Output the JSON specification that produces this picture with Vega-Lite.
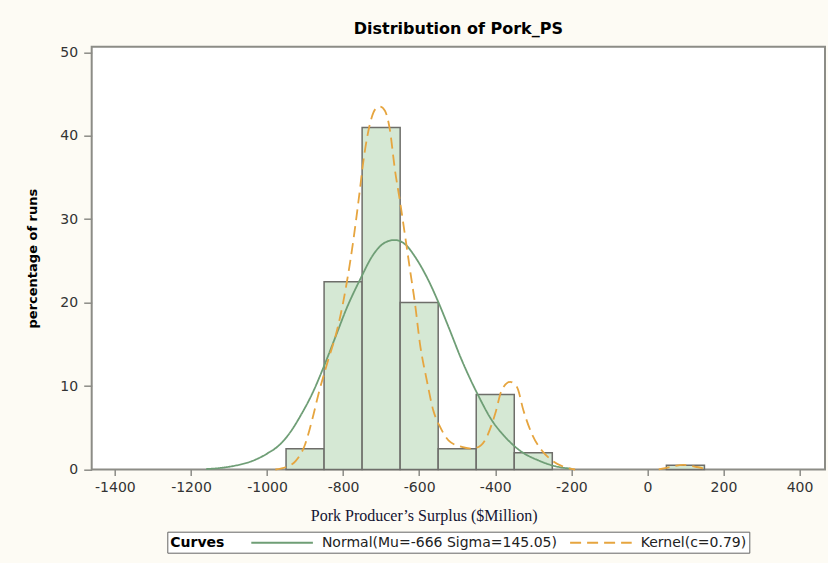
{
  "$schema": "https://vega.github.io/schema/vega-lite/v6.json",
  "autosize": {"type": "none"},
  "width": 733.3,
  "height": 422.8,
  "padding": {"left": 91.7, "top": 46.7, "right": 3, "bottom": 93.5},
  "background": "#fdfbf4",
  "title": {
    "text": "Distribution of Pork_PS",
    "font": "DejaVu Sans",
    "fontSize": 16,
    "fontWeight": "bold",
    "color": "#000000",
    "anchor": "middle",
    "offset": 8
  },
  "config": {
    "view": {"fill": "#ffffff", "stroke": "#8c8c86", "strokeWidth": 2},
    "axis": {
      "labelFont": "DejaVu Sans",
      "labelFontSize": 14,
      "labelColor": "#333333",
      "tickColor": "#8c8c86",
      "tickWidth": 1.5,
      "domain": false,
      "grid": false
    }
  },
  "datasets": {
    "bars": [
      {"lo": -950, "hi": -850, "pct": 2.5},
      {"lo": -850, "hi": -750, "pct": 22.5},
      {"lo": -750, "hi": -650, "pct": 41},
      {"lo": -650, "hi": -550, "pct": 20},
      {"lo": -550, "hi": -450, "pct": 2.5},
      {"lo": -450, "hi": -350, "pct": 9},
      {"lo": -350, "hi": -250, "pct": 2},
      {"lo": 50, "hi": 150, "pct": 0.5}
    ],
    "curves": [
      {"curve": "Normal(Mu=-666 Sigma=145.05)", "seg": "n", "x": -1160, "y": 0.05},
      {"curve": "Normal(Mu=-666 Sigma=145.05)", "seg": "n", "x": -1120, "y": 0.2},
      {"curve": "Normal(Mu=-666 Sigma=145.05)", "seg": "n", "x": -1080, "y": 0.5},
      {"curve": "Normal(Mu=-666 Sigma=145.05)", "seg": "n", "x": -1040, "y": 1.0},
      {"curve": "Normal(Mu=-666 Sigma=145.05)", "seg": "n", "x": -1000, "y": 1.9},
      {"curve": "Normal(Mu=-666 Sigma=145.05)", "seg": "n", "x": -966, "y": 3.0},
      {"curve": "Normal(Mu=-666 Sigma=145.05)", "seg": "n", "x": -940, "y": 4.4},
      {"curve": "Normal(Mu=-666 Sigma=145.05)", "seg": "n", "x": -910, "y": 6.6},
      {"curve": "Normal(Mu=-666 Sigma=145.05)", "seg": "n", "x": -880, "y": 9.2},
      {"curve": "Normal(Mu=-666 Sigma=145.05)", "seg": "n", "x": -851, "y": 12.3},
      {"curve": "Normal(Mu=-666 Sigma=145.05)", "seg": "n", "x": -820, "y": 15.9},
      {"curve": "Normal(Mu=-666 Sigma=145.05)", "seg": "n", "x": -790, "y": 19.4},
      {"curve": "Normal(Mu=-666 Sigma=145.05)", "seg": "n", "x": -755, "y": 22.8},
      {"curve": "Normal(Mu=-666 Sigma=145.05)", "seg": "n", "x": -720, "y": 25.8},
      {"curve": "Normal(Mu=-666 Sigma=145.05)", "seg": "n", "x": -690, "y": 27.2},
      {"curve": "Normal(Mu=-666 Sigma=145.05)", "seg": "n", "x": -665, "y": 27.5},
      {"curve": "Normal(Mu=-666 Sigma=145.05)", "seg": "n", "x": -637, "y": 27.0},
      {"curve": "Normal(Mu=-666 Sigma=145.05)", "seg": "n", "x": -611, "y": 25.5},
      {"curve": "Normal(Mu=-666 Sigma=145.05)", "seg": "n", "x": -576, "y": 22.7},
      {"curve": "Normal(Mu=-666 Sigma=145.05)", "seg": "n", "x": -550, "y": 20.1},
      {"curve": "Normal(Mu=-666 Sigma=145.05)", "seg": "n", "x": -523, "y": 17.1},
      {"curve": "Normal(Mu=-666 Sigma=145.05)", "seg": "n", "x": -488, "y": 13.1},
      {"curve": "Normal(Mu=-666 Sigma=145.05)", "seg": "n", "x": -445, "y": 8.9},
      {"curve": "Normal(Mu=-666 Sigma=145.05)", "seg": "n", "x": -409, "y": 5.9},
      {"curve": "Normal(Mu=-666 Sigma=145.05)", "seg": "n", "x": -374, "y": 3.9},
      {"curve": "Normal(Mu=-666 Sigma=145.05)", "seg": "n", "x": -330, "y": 2.1},
      {"curve": "Normal(Mu=-666 Sigma=145.05)", "seg": "n", "x": -287, "y": 1.1},
      {"curve": "Normal(Mu=-666 Sigma=145.05)", "seg": "n", "x": -243, "y": 0.4},
      {"curve": "Normal(Mu=-666 Sigma=145.05)", "seg": "n", "x": -200, "y": 0.1},
      {"curve": "Kernel(c=0.79)", "seg": "a", "x": -978, "y": 0},
      {"curve": "Kernel(c=0.79)", "seg": "a", "x": -950, "y": 0.3},
      {"curve": "Kernel(c=0.79)", "seg": "a", "x": -925, "y": 1.0},
      {"curve": "Kernel(c=0.79)", "seg": "a", "x": -900, "y": 3.0},
      {"curve": "Kernel(c=0.79)", "seg": "a", "x": -880, "y": 6.2},
      {"curve": "Kernel(c=0.79)", "seg": "a", "x": -865, "y": 9},
      {"curve": "Kernel(c=0.79)", "seg": "a", "x": -840, "y": 13},
      {"curve": "Kernel(c=0.79)", "seg": "a", "x": -817, "y": 16.5},
      {"curve": "Kernel(c=0.79)", "seg": "a", "x": -800, "y": 20},
      {"curve": "Kernel(c=0.79)", "seg": "a", "x": -790, "y": 22.5},
      {"curve": "Kernel(c=0.79)", "seg": "a", "x": -773, "y": 27.5},
      {"curve": "Kernel(c=0.79)", "seg": "a", "x": -760, "y": 32},
      {"curve": "Kernel(c=0.79)", "seg": "a", "x": -745, "y": 37.5},
      {"curve": "Kernel(c=0.79)", "seg": "a", "x": -729, "y": 41.5},
      {"curve": "Kernel(c=0.79)", "seg": "a", "x": -715, "y": 43.2},
      {"curve": "Kernel(c=0.79)", "seg": "a", "x": -703, "y": 43.5},
      {"curve": "Kernel(c=0.79)", "seg": "a", "x": -690, "y": 43},
      {"curve": "Kernel(c=0.79)", "seg": "a", "x": -677, "y": 40.7},
      {"curve": "Kernel(c=0.79)", "seg": "a", "x": -664, "y": 36},
      {"curve": "Kernel(c=0.79)", "seg": "a", "x": -650, "y": 32},
      {"curve": "Kernel(c=0.79)", "seg": "a", "x": -637, "y": 28},
      {"curve": "Kernel(c=0.79)", "seg": "a", "x": -624, "y": 23.9},
      {"curve": "Kernel(c=0.79)", "seg": "a", "x": -611, "y": 19.9},
      {"curve": "Kernel(c=0.79)", "seg": "a", "x": -598, "y": 15.1},
      {"curve": "Kernel(c=0.79)", "seg": "a", "x": -580, "y": 10.7},
      {"curve": "Kernel(c=0.79)", "seg": "a", "x": -563, "y": 7.1},
      {"curve": "Kernel(c=0.79)", "seg": "a", "x": -545, "y": 5.1},
      {"curve": "Kernel(c=0.79)", "seg": "a", "x": -523, "y": 3.5},
      {"curve": "Kernel(c=0.79)", "seg": "a", "x": -488, "y": 2.7},
      {"curve": "Kernel(c=0.79)", "seg": "a", "x": -460, "y": 2.5},
      {"curve": "Kernel(c=0.79)", "seg": "a", "x": -449, "y": 2.6},
      {"curve": "Kernel(c=0.79)", "seg": "a", "x": -427, "y": 3.5},
      {"curve": "Kernel(c=0.79)", "seg": "a", "x": -400, "y": 6.7},
      {"curve": "Kernel(c=0.79)", "seg": "a", "x": -383, "y": 9.5},
      {"curve": "Kernel(c=0.79)", "seg": "a", "x": -361, "y": 10.5},
      {"curve": "Kernel(c=0.79)", "seg": "a", "x": -343, "y": 9.9},
      {"curve": "Kernel(c=0.79)", "seg": "a", "x": -326, "y": 7.1},
      {"curve": "Kernel(c=0.79)", "seg": "a", "x": -304, "y": 4.3},
      {"curve": "Kernel(c=0.79)", "seg": "a", "x": -278, "y": 2.3},
      {"curve": "Kernel(c=0.79)", "seg": "a", "x": -251, "y": 1.1},
      {"curve": "Kernel(c=0.79)", "seg": "a", "x": -216, "y": 0.26},
      {"curve": "Kernel(c=0.79)", "seg": "a", "x": -190, "y": 0},
      {"curve": "Kernel(c=0.79)", "seg": "b", "x": 30, "y": 0},
      {"curve": "Kernel(c=0.79)", "seg": "b", "x": 60, "y": 0.3},
      {"curve": "Kernel(c=0.79)", "seg": "b", "x": 95, "y": 0.55},
      {"curve": "Kernel(c=0.79)", "seg": "b", "x": 130, "y": 0.3},
      {"curve": "Kernel(c=0.79)", "seg": "b", "x": 160, "y": 0}
    ]
  },
  "layer": [
    {
      "data": {"name": "bars"},
      "mark": {"type": "rect", "fill": "#d5e8d4", "stroke": "#6e6e6a", "strokeWidth": 1.5},
      "encoding": {
        "x": {
          "field": "lo", "type": "quantitative",
          "scale": {"domain": [-1461, 467], "nice": false, "zero": false},
          "axis": {
            "values": [-1400, -1200, -1000, -800, -600, -400, -200, 0, 200, 400],
            "labelExpr": "'' + datum.value",
            "tickSize": 6, "labelPadding": 5,
            "title": "Pork Producer’s Surplus ($Million)",
            "titleFont": "Liberation Serif", "titleFontSize": 16, "titleFontWeight": "normal",
            "titleColor": "#141432", "titleX": 332, "titleY": 38
          }
        },
        "x2": {"field": "hi"},
        "y": {
          "field": "pct", "type": "quantitative",
          "scale": {"domain": [0, 50.67], "nice": false},
          "axis": {
            "values": [0, 10, 20, 30, 40, 50],
            "tickSize": 8, "labelPadding": 6,
            "title": "percentage of runs",
            "titleFont": "DejaVu Sans", "titleFontSize": 13, "titleFontWeight": "bold",
            "titleColor": "#000000", "titlePadding": 20
          }
        },
        "y2": {"datum": 0}
      }
    },
    {
      "data": {"name": "curves"},
      "mark": {"type": "line", "interpolate": "monotone", "strokeWidth": 1.8},
      "encoding": {
        "x": {"field": "x", "type": "quantitative"},
        "y": {"field": "y", "type": "quantitative"},
        "detail": {"field": "seg", "type": "nominal"},
        "color": {
          "field": "curve", "type": "nominal",
          "scale": {"domain": ["Normal(Mu=-666 Sigma=145.05)", "Kernel(c=0.79)"], "range": ["#6f9e76", "#e6a53f"]},
          "legend": {
            "orient": "none", "legendX": 75.6, "legendY": 485,
            "direction": "horizontal", "title": "Curves", "titleOrient": "left",
            "titleFont": "DejaVu Sans", "titleFontSize": 14, "titleFontWeight": "bold",
            "titleColor": "#000000", "titlePadding": 48.8,
            "labelFont": "DejaVu Sans", "labelFontSize": 14, "labelColor": "#222222", "labelLimit": 400,
            "symbolType": "M-4.4,0H4.4", "symbolSize": 196, "symbolStrokeWidth": 2,
            "labelOffset": 31.8, "columnPadding": 8.8, "padding": 3,
            "strokeColor": "#666666", "fillColor": "#ffffff"
          }
        },
        "strokeDash": {
          "field": "curve", "type": "nominal",
          "scale": {"domain": ["Normal(Mu=-666 Sigma=145.05)", "Kernel(c=0.79)"], "range": [[1, 0], [11, 6]]},
          "legend": {
            "orient": "none", "legendX": 75.6, "legendY": 485,
            "direction": "horizontal", "title": "Curves", "titleOrient": "left",
            "titleFont": "DejaVu Sans", "titleFontSize": 14, "titleFontWeight": "bold",
            "titleColor": "#000000", "titlePadding": 48.8,
            "labelFont": "DejaVu Sans", "labelFontSize": 14, "labelColor": "#222222", "labelLimit": 400,
            "symbolType": "M-4.4,0H4.4", "symbolSize": 196, "symbolStrokeWidth": 2,
            "labelOffset": 31.8, "columnPadding": 8.8, "padding": 3,
            "strokeColor": "#666666", "fillColor": "#ffffff"
          }
        }
      }
    }
  ]
}
